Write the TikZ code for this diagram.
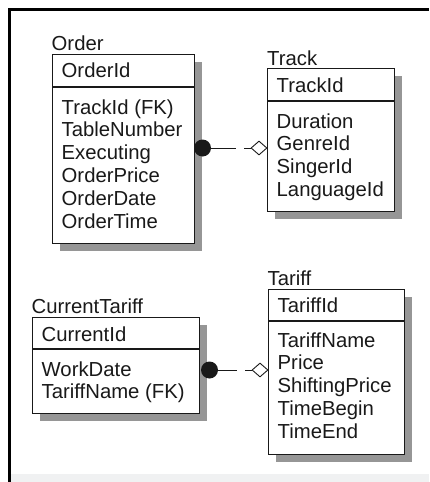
\documentclass[tikz,border=0pt]{standalone}
\usepackage{fontspec}
\setmainfont{Liberation Sans}
\usepackage{tikz}
\usetikzlibrary{shapes.geometric, shadows, positioning}
\definecolor{shadowgray}{RGB}{150,150,150}
\definecolor{bandgray}{RGB}{240,241,242}
\definecolor{inkdark}{RGB}{25,25,25}
\tikzset{
  entbox/.style={rectangle, draw=inkdark, fill=white, line width=1.1pt,
    inner sep=0pt, anchor=north west,
    drop shadow={shadow xshift=7pt, shadow yshift=-7pt, fill=shadowgray, opacity=1}},
  sepline/.style={draw=inkdark, line width=1.1pt},
  title/.style={anchor=base west, inner sep=0pt, text=inkdark,
    font=\fontsize{20.3}{23}\selectfont},
  field/.style={anchor=base west, inner sep=0pt, text=inkdark,
    font=\fontsize{20.3}{23}\selectfont},
  rel/.style={draw=inkdark, line width=1pt, dash pattern=on 7pt off 8pt on 60pt},
  dot/.style={circle, fill=inkdark, inner sep=0pt, minimum size=17pt},
  dia/.style={diamond, draw=inkdark, fill=white, line width=0.9pt,
    inner sep=0pt, minimum width=16pt, minimum height=14pt}
}

\begin{document}
\begin{tikzpicture}[x=1pt, y=-1pt]
    \useasboundingbox (0,0) rectangle (429,482);

    % Frame
    \fill[bandgray] (11,474) rectangle (429,482);
    \draw[line width=3pt] (8,9.5) -- (429,9.5);
    \draw[line width=3pt] (9.5,8) -- (9.5,482);

    % Order
    \node[title] (ordT) at (51.5,50) {Order};
    \node[entbox, minimum width=142, minimum height=189] (ordbox) at (52,54) {};
    \draw[sepline] ([yshift=-33pt]ordbox.north west) -- ([yshift=-33pt]ordbox.north east);
    \node[field] (ordK) at (61.5,77) {OrderId};
    \node[field] (ordA1) at (61.5,114) {TrackId (FK)};
    \node[field] (ordA2) at (61.5,136.8) {TableNumber};
    \node[field] (ordA3) at (61.5,159.6) {Executing};
    \node[field] (ordA4) at (61.5,182.4) {OrderPrice};
    \node[field] (ordA5) at (61.5,205.2) {OrderDate};
    \node[field] (ordA6) at (61.5,228) {OrderTime};

    % Track
    \node[title] (trkT) at (267,65) {Track};
    \node[entbox, minimum width=127, minimum height=143] (trkbox) at (267,68) {};
    \draw[sepline] ([yshift=-33pt]trkbox.north west) -- ([yshift=-33pt]trkbox.north east);
    \node[field] (trkK) at (276.5,92) {TrackId};
    \node[field] (trkA1) at (276.5,128) {Duration};
    \node[field] (trkA2) at (276.5,150.8) {GenreId};
    \node[field] (trkA3) at (276.5,173.6) {SingerId};
    \node[field] (trkA4) at (276.5,196.4) {LanguageId};

    % CurrentTariff
    \node[title] (curT) at (31.5,313) {CurrentTariff};
    \node[entbox, minimum width=167, minimum height=96] (curbox) at (32,317) {};
    \draw[sepline] ([yshift=-32pt]curbox.north west) -- ([yshift=-32pt]curbox.north east);
    \node[field] (curK) at (41.5,341) {CurrentId};
    \node[field] (curA1) at (41.5,376) {WorkDate};
    \node[field] (curA2) at (41.5,398.8) {TariffName (FK)};

    % Tariff
    \node[title] (tarT) at (267.5,285) {Tariff};
    \node[entbox, minimum width=136, minimum height=165] (tarbox) at (268,289) {};
    \draw[sepline] ([yshift=-32pt]tarbox.north west) -- ([yshift=-32pt]tarbox.north east);
    \node[field] (tarK) at (277.5,312) {TariffId};
    \node[field] (tarA1) at (277.5,347) {TariffName};
    \node[field] (tarA2) at (277.5,369.8) {Price};
    \node[field] (tarA3) at (277.5,392.6) {ShiftingPrice};
    \node[field] (tarA4) at (277.5,415.4) {TimeBegin};
    \node[field] (tarA5) at (277.5,438.2) {TimeEnd};

    % Relationships
    \node[dot] (ordDot) at (202.5,148) {};
    \node[dia] (trkDia) at (259,148) {};
    \draw[rel] (trkDia.west) -- (ordDot.east);

    \node[dot] (curDot) at (209.5,370) {};
    \node[dia] (tarDia) at (260,370) {};
    \draw[rel] (tarDia.west) -- (curDot.east);
\end{tikzpicture}
\end{document}
